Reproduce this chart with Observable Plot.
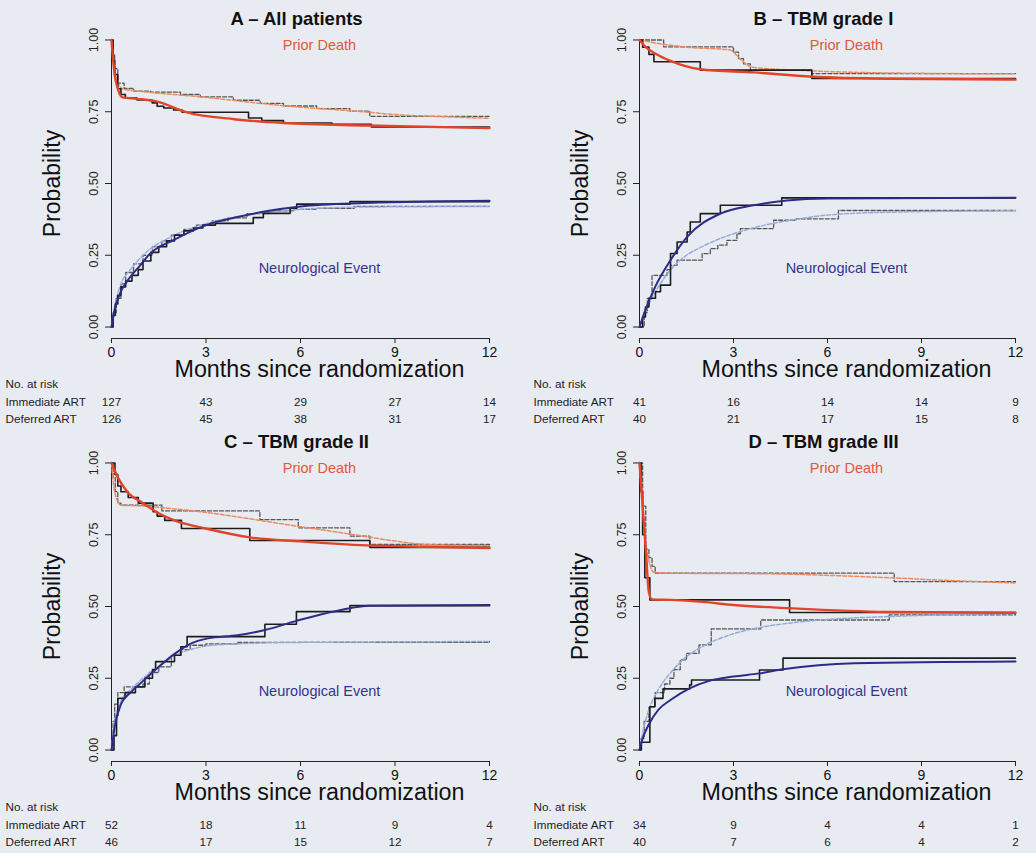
<!DOCTYPE html>
<html><head><meta charset="utf-8">
<script src="https://cdn.jsdelivr.net/npm/d3@7"></script>
<script src="https://cdn.jsdelivr.net/npm/@observablehq/plot@0.6"></script>
<style>
body{margin:0;background:#e8ecf2;width:1036px;height:853px;position:relative;overflow:hidden;font-family:"Liberation Sans",Arial,sans-serif}
.panel{position:absolute}
</style></head><body>
<div id="pA" class="panel" style="left:0;top:0"></div>
<div id="pB" class="panel" style="left:520px;top:0"></div>
<div id="pC" class="panel" style="left:0;top:423px"></div>
<div id="pD" class="panel" style="left:520px;top:423px"></div>
<script>
// ---------- tick labels ----------
const xTicks = [0, 3, 6, 9, 12];
const yTicks = [0, 0.25, 0.5, 0.75, 1];
const riskLabels = ["No. at risk", "Immediate ART", "Deferred ART"];

// ---------- Panel A: All patients ----------
const A_title = "A \u2013 All patients";
const A_deathImmStep = [[0,1],[0.05,0.93],[0.1,0.88],[0.2,0.83],[0.3,0.81],[0.44,0.798],[0.81,0.791],[1.29,0.781],[1.45,0.769],[1.66,0.763],[1.97,0.756],[2.24,0.748],[4.35,0.728],[4.77,0.719],[5.46,0.711],[7.0,0.706],[8.25,0.697],[12,0.697]];
const A_deathDefStep = [[0,1],[0.05,0.95],[0.1,0.9],[0.2,0.85],[0.4,0.831],[0.71,0.822],[1.24,0.818],[2.19,0.81],[2.82,0.802],[3.87,0.79],[4.72,0.779],[5.46,0.77],[6.51,0.761],[7.57,0.752],[8.2,0.734],[12,0.73]];
const A_deathImmFit = [[0,1],[0.1,0.88],[0.2,0.83],[0.35,0.80],[0.8,0.795],[1.45,0.785],[2.4,0.748],[3.9,0.724],[5.46,0.711],[8.1,0.702],[12,0.693]];
const A_deathDefFit = [[0,1],[0.15,0.87],[0.35,0.83],[1,0.82],[2,0.81],[3,0.80],[4,0.788],[5,0.776],[6,0.766],[7,0.758],[8,0.75],[9,0.74],[10,0.735],[12,0.727]];
const A_neuroImmStep = [[0,0],[0.05,0.04],[0.12,0.08],[0.2,0.11],[0.3,0.14],[0.45,0.16],[0.65,0.18],[0.85,0.2],[1.0,0.23],[1.25,0.26],[1.5,0.28],[1.75,0.3],[2.0,0.32],[2.3,0.335],[2.6,0.345],[2.9,0.355],[3.3,0.361],[4.5,0.381],[4.82,0.396],[5.67,0.414],[5.88,0.428],[7.57,0.437],[12,0.437]];
const A_neuroDefStep = [[0,0],[0.05,0.05],[0.15,0.1],[0.3,0.15],[0.45,0.19],[0.7,0.22],[1.0,0.25],[1.3,0.28],[1.6,0.3],[1.9,0.32],[2.3,0.34],[2.7,0.355],[3.2,0.37],[3.7,0.38],[4.3,0.395],[5,0.405],[5.8,0.41],[6.5,0.413],[7.7,0.42],[12,0.42]];
const A_neuroImmFit = [[0,0],[0.1,0.06],[0.28,0.12],[0.5,0.16],[0.92,0.216],[1.23,0.256],[1.97,0.303],[3.03,0.356],[4.08,0.385],[5,0.405],[6,0.42],[8,0.432],[10,0.437],[12,0.44]];
const A_neuroDefFit = [[0,0],[0.1,0.07],[0.3,0.15],[0.6,0.2],[1,0.25],[2,0.32],[3,0.36],[4,0.385],[5,0.4],[6,0.41],[8,0.418],[12,0.42]];
const A_riskImm = [127, 43, 29, 27, 14];
const A_riskDef = [126, 45, 38, 31, 17];

// ---------- Panel B: TBM grade I ----------
const B_title = "B \u2013 TBM grade I";
const B_deathImmStep = [[0,1],[0.1,0.975],[0.3,0.95],[0.46,0.924],[1.94,0.895],[5.5,0.866],[12,0.866]];
const B_deathDefStep = [[0,1],[0.77,0.976],[3.0,0.958],[3.16,0.935],[3.32,0.917],[3.54,0.895],[5.5,0.883],[12,0.883]];
const B_deathImmFit = [[0,1],[0.2,0.975],[0.5,0.953],[0.99,0.927],[1.94,0.898],[3.64,0.887],[5.5,0.872],[8,0.865],[12,0.862]];
const B_deathDefFit = [[0,1],[0.77,0.985],[1.5,0.975],[2.9,0.965],[3.2,0.935],[3.6,0.905],[5,0.895],[8,0.885],[12,0.882]];
const B_neuroImmStep = [[0,0],[0.1,0.035],[0.19,0.07],[0.3,0.1],[0.51,0.123],[0.67,0.146],[0.99,0.256],[1.2,0.296],[1.52,0.331],[1.62,0.366],[1.94,0.395],[2.58,0.424],[4.54,0.45],[12,0.45]];
const B_neuroDefStep = [[0,0],[0.15,0.05],[0.25,0.1],[0.4,0.18],[0.88,0.2],[0.99,0.215],[1.2,0.233],[2.0,0.256],[2.26,0.273],[2.5,0.285],[2.79,0.302],[3.11,0.325],[3.22,0.343],[4.28,0.372],[5.0,0.377],[6.35,0.406],[12,0.406]];
const B_neuroImmFit = [[0,0],[0.19,0.06],[0.5,0.14],[0.99,0.233],[1.52,0.314],[2.58,0.395],[3.64,0.424],[4.7,0.441],[6,0.448],[12,0.45]];
const B_neuroDefFit = [[0,0],[0.3,0.08],[0.6,0.14],[1,0.2],[1.5,0.25],[2,0.28],[2.5,0.305],[3,0.325],[4,0.355],[5,0.375],[6,0.39],[8,0.4],[12,0.405]];
const B_riskImm = [41, 16, 14, 14, 9];
const B_riskDef = [40, 21, 17, 15, 8];

// ---------- Panel C: TBM grade II ----------
const C_title = "C \u2013 TBM grade II";
const C_deathImmStep = [[0,1],[0.11,0.96],[0.2,0.92],[0.3,0.9],[0.53,0.88],[0.85,0.86],[1.32,0.83],[1.45,0.815],[1.69,0.8],[2.22,0.772],[4.39,0.73],[8.2,0.706],[12,0.706]];
const C_deathDefStep = [[0,1],[0.05,0.95],[0.12,0.9],[0.2,0.86],[0.3,0.853],[1.6,0.833],[4.71,0.803],[5.93,0.774],[7.57,0.745],[8.2,0.716],[12,0.716]];
const C_deathImmFit = [[0,1],[0.2,0.95],[0.5,0.9],[1,0.86],[1.5,0.825],[2,0.8],[3.06,0.77],[4.39,0.741],[6,0.727],[8.1,0.713],[10,0.708],[12,0.704]];
const C_deathDefFit = [[0,1],[0.1,0.9],[0.3,0.853],[1,0.85],[2,0.84],[3,0.828],[4,0.812],[5,0.795],[6,0.778],[7,0.762],[8,0.745],[9,0.728],[10,0.716],[11,0.713],[12,0.712]];
const C_neuroImmStep = [[0,0],[0.08,0.05],[0.16,0.12],[0.2,0.18],[0.43,0.2],[0.76,0.22],[1.06,0.25],[1.3,0.28],[1.4,0.308],[2.0,0.33],[2.2,0.36],[2.4,0.395],[4.87,0.438],[5.87,0.482],[7.57,0.503],[12,0.503]];
const C_neuroDefStep = [[0,0],[0.05,0.1],[0.1,0.16],[0.2,0.2],[0.4,0.22],[1.0,0.23],[1.2,0.27],[1.5,0.29],[1.9,0.33],[2.2,0.35],[2.5,0.365],[3,0.37],[4,0.375],[12,0.378]];
const C_neuroImmFit = [[0,0],[0.1,0.08],[0.3,0.16],[0.6,0.2],[1,0.24],[1.5,0.29],[2,0.335],[2.5,0.37],[3.06,0.389],[4,0.4],[4.87,0.418],[5.87,0.45],[7.57,0.494],[8.15,0.503],[12,0.505]];
const C_neuroDefFit = [[0,0],[0.1,0.1],[0.3,0.17],[0.6,0.21],[1,0.25],[1.5,0.29],[2,0.33],[2.5,0.35],[3,0.362],[4,0.37],[6,0.375],[12,0.378]];
const C_riskImm = [52, 18, 11, 9, 4];
const C_riskDef = [46, 17, 15, 12, 7];

// ---------- Panel D: TBM grade III ----------
const D_title = "D \u2013 TBM grade III";
const D_deathImmStep = [[0,1],[0.05,0.9],[0.1,0.75],[0.17,0.6],[0.33,0.523],[4.79,0.479],[12,0.479]];
const D_deathDefStep = [[0,1],[0.1,0.85],[0.2,0.7],[0.3,0.67],[0.4,0.64],[0.5,0.616],[8.13,0.587],[12,0.585]];
const D_deathImmFit = [[0,1],[0.1,0.85],[0.2,0.7],[0.3,0.55],[0.4,0.525],[1,0.523],[2,0.516],[3,0.505],[4.79,0.494],[7.92,0.481],[12,0.478]];
const D_deathDefFit = [[0,1],[0.1,0.85],[0.2,0.72],[0.3,0.66],[0.45,0.62],[1,0.616],[4,0.614],[8,0.6],[10,0.59],[12,0.582]];
const D_neuroImmStep = [[0,0],[0.06,0.027],[0.33,0.151],[0.49,0.18],[0.75,0.213],[1.6,0.227],[1.66,0.244],[3.83,0.279],[4.58,0.32],[12,0.32]];
const D_neuroDefStep = [[0,0],[0.05,0.04],[0.15,0.1],[0.3,0.15],[0.5,0.2],[0.8,0.23],[0.97,0.25],[1.1,0.28],[1.3,0.314],[1.5,0.337],[1.9,0.366],[2.29,0.422],[3.87,0.453],[7.97,0.471],[12,0.475]];
const D_neuroImmFit = [[0,0],[0.1,0.04],[0.3,0.09],[0.6,0.14],[1,0.175],[1.6,0.215],[2.2,0.24],[3,0.256],[3.83,0.267],[4.58,0.281],[6.86,0.302],[12,0.308]];
const D_neuroDefFit = [[0,0],[0.1,0.06],[0.3,0.14],[0.6,0.21],[1,0.27],[1.5,0.325],[2,0.36],[3,0.405],[4,0.43],[5,0.445],[6,0.455],[8,0.465],[10,0.472],[12,0.476]];
const D_riskImm = [34, 9, 4, 4, 1];
const D_riskDef = [40, 7, 6, 4, 2];

// ---------- styles ----------
const FONT = "'Liberation Sans', Arial, Helvetica, sans-serif";
const RED = "#e2442a", ORANGE = "#ee8a60", NAVY = "#2c2c88", LIGHTBLUE = "#97abd8";
const STEP = "#1c1c1c", GREY = "#555555";
const yDomain = [-0.04, 1.04];

function panel(el, title, s, riskImm, riskDef, geom) {
  const X = d => d[0], Y = d => d[1];
  const T = {lineAnchor: "middle"};
  const chart = Plot.plot({
    width: geom.width, height: 430,
    marginTop: 28, marginBottom: 92, marginLeft: geom.marginLeft, marginRight: geom.marginRight,
    x: {domain: [0, 12]},
    y: {domain: yDomain},
    style: {background: "transparent", fontFamily: FONT, overflow: "visible", color: "#111"},
    marks: [
      // axes
      Plot.ruleX([0], {y1: () => 0, y2: () => 1, stroke: "#222", strokeWidth: 1}),
      Plot.ruleY([yDomain[0]], {stroke: "#222", strokeWidth: 1.2}),
      Plot.axisX({ticks: xTicks, tickSize: 5, tickPadding: 4, fontSize: 14, label: null, stroke: "#222"}),
      Plot.axisY({ticks: yTicks, tickSize: 6, tickFormat: () => "", label: null, stroke: "#222"}),
      Plot.text(yTicks, {x: () => 0, y: d => d, text: d => d.toFixed(2), rotate: -90, dx: -18, fontSize: 12.5, fill: "#222", ...T}),
      // dashed (deferred) step curves
      Plot.line(s.deathDefStep, {x: X, y: Y, curve: "step-after", stroke: GREY, strokeWidth: 1.3, strokeDasharray: "4,2"}),
      Plot.line(s.neuroDefStep, {x: X, y: Y, curve: "step-after", stroke: GREY, strokeWidth: 1.3, strokeDasharray: "4,2"}),
      // dashed (deferred) fitted curves
      Plot.line(s.deathDefFit, {x: X, y: Y, curve: "monotone-x", stroke: ORANGE, strokeWidth: 1.5, strokeDasharray: "4,2"}),
      Plot.line(s.neuroDefFit, {x: X, y: Y, curve: "monotone-x", stroke: LIGHTBLUE, strokeWidth: 1.5, strokeDasharray: "4,2"}),
      // solid (immediate) step curves
      Plot.line(s.deathImmStep, {x: X, y: Y, curve: "step-after", stroke: STEP, strokeWidth: 1.6}),
      Plot.line(s.neuroImmStep, {x: X, y: Y, curve: "step-after", stroke: STEP, strokeWidth: 1.6}),
      // solid (immediate) fitted curves
      Plot.line(s.deathImmFit, {x: X, y: Y, curve: "monotone-x", stroke: RED, strokeWidth: 2.4}),
      Plot.line(s.neuroImmFit, {x: X, y: Y, curve: "monotone-x", stroke: NAVY, strokeWidth: 2}),
      // titles and labels
      Plot.text([title], {frameAnchor: "top", dx: -4, dy: -9, fontSize: 18.5, fontWeight: "bold", fill: "#111", ...T}),
      Plot.text(["Prior Death"], {frameAnchor: "top", dx: 19, dy: 17, fontSize: 14.5, fill: "#e0583a", ...T}),
      Plot.text(["Neurological Event"], {frameAnchor: "top", dx: 19, dy: 240, fontSize: 14.5, fill: "#34348e", ...T}),
      Plot.text(["Months since randomization"], {frameAnchor: "bottom", dx: 19, dy: 31, fontSize: 23.3, fill: "#111", ...T}),
      Plot.text(["Probability"], {frameAnchor: "left", dx: -59, rotate: -90, fontSize: 23, fill: "#111", textAnchor: "middle", ...T}),
      // risk table
      Plot.text([riskLabels[0]], {frameAnchor: "bottom-left", dx: -106, dy: 46, textAnchor: "start", fontSize: 11.7, fill: "#222", ...T}),
      Plot.text([riskLabels[1]], {frameAnchor: "bottom-left", dx: -106, dy: 64, textAnchor: "start", fontSize: 11.7, fill: "#222", ...T}),
      Plot.text([riskLabels[2]], {frameAnchor: "bottom-left", dx: -106, dy: 81, textAnchor: "start", fontSize: 11.7, fill: "#222", ...T}),
      Plot.text(riskImm, {x: (d, i) => xTicks[i], text: d => d, frameAnchor: "bottom", dy: 64, fontSize: 11.7, fill: "#222", ...T}),
      Plot.text(riskDef, {x: (d, i) => xTicks[i], text: d => d, frameAnchor: "bottom", dy: 81, fontSize: 11.7, fill: "#222", ...T})
    ]
  });
  document.getElementById(el).appendChild(chart);
}

const leftGeom = {width: 520, marginLeft: 111, marginRight: 31};
const rightGeom = {width: 516, marginLeft: 119, marginRight: 21};

panel("pA", A_title, {deathImmStep: A_deathImmStep, deathDefStep: A_deathDefStep, deathImmFit: A_deathImmFit, deathDefFit: A_deathDefFit,
  neuroImmStep: A_neuroImmStep, neuroDefStep: A_neuroDefStep, neuroImmFit: A_neuroImmFit, neuroDefFit: A_neuroDefFit}, A_riskImm, A_riskDef, leftGeom);
panel("pB", B_title, {deathImmStep: B_deathImmStep, deathDefStep: B_deathDefStep, deathImmFit: B_deathImmFit, deathDefFit: B_deathDefFit,
  neuroImmStep: B_neuroImmStep, neuroDefStep: B_neuroDefStep, neuroImmFit: B_neuroImmFit, neuroDefFit: B_neuroDefFit}, B_riskImm, B_riskDef, rightGeom);
panel("pC", C_title, {deathImmStep: C_deathImmStep, deathDefStep: C_deathDefStep, deathImmFit: C_deathImmFit, deathDefFit: C_deathDefFit,
  neuroImmStep: C_neuroImmStep, neuroDefStep: C_neuroDefStep, neuroImmFit: C_neuroImmFit, neuroDefFit: C_neuroDefFit}, C_riskImm, C_riskDef, leftGeom);
panel("pD", D_title, {deathImmStep: D_deathImmStep, deathDefStep: D_deathDefStep, deathImmFit: D_deathImmFit, deathDefFit: D_deathDefFit,
  neuroImmStep: D_neuroImmStep, neuroDefStep: D_neuroDefStep, neuroImmFit: D_neuroImmFit, neuroDefFit: D_neuroDefFit}, D_riskImm, D_riskDef, rightGeom);
</script>
</body></html>
